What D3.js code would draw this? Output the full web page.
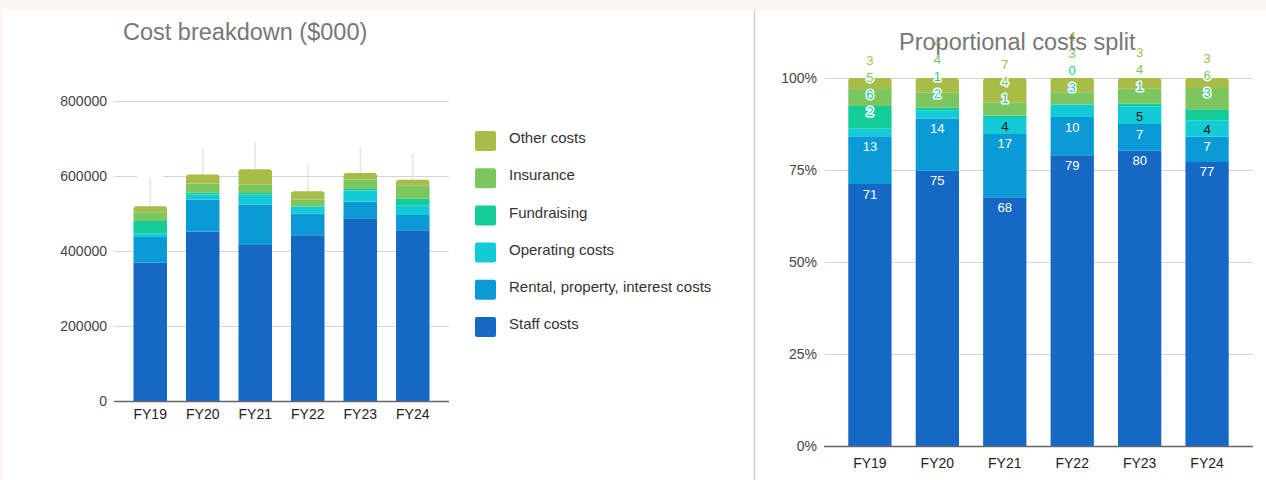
<!DOCTYPE html>
<html>
<head>
<meta charset="utf-8">
<script src="https://cdn.jsdelivr.net/npm/d3@7/dist/d3.min.js"></script>
<style>
  html, body { margin: 0; padding: 0; background: #fdf8ef; }
  svg { display: block; }
  text { font-family: "Liberation Sans", Arial, Helvetica, sans-serif; }
</style>
</head>
<body>
<svg id="chart" width="1266" height="480"></svg>
<script>
// ---- data ($000) ----
const categories = ["FY19", "FY20", "FY21", "FY22", "FY23", "FY24"];
const seriesNames = ["Staff costs", "Rental, property, interest costs", "Operating costs", "Fundraising", "Insurance", "Other costs"];
const staffCosts     = [369600, 451800, 417800, 441800, 487600, 455500];
const rentalCosts    = [67500, 85800, 106300, 58100, 44400, 40700];
const operatingCosts = [10400, 13300, 26600, 18400, 29200, 26000];
const fundraising    = [32200, 4200, 4300, 1100, 4300, 17700];
const insurance      = [23900, 24800, 22200, 17900, 24900, 34200];
const otherCosts     = [15600, 24100, 40800, 21800, 17600, 15900];
const upperMarks     = [600000, 679000, 695000, 637000, 682000, 664000];
const leftTicks  = [0, 200000, 400000, 600000, 800000];
const rightTicks = [0, 25, 50, 75, 100];
const seriesColors = ["#1569c5", "#0a9bd7", "#12cbd6", "#14cd96", "#7cc660", "#a7bd47"];

const seriesValues = [staffCosts, rentalCosts, operatingCosts, fundraising, insurance, otherCosts];
const rows = categories.map((c, i) => {
  const r = { cat: c };
  seriesNames.forEach((s, k) => r[s] = seriesValues[k][i]);
  r.total = d3.sum(seriesValues, v => v[i]);
  return r;
});
const stackAbs = d3.stack().keys(seriesNames)(rows);
const stackPct = d3.stack().keys(seriesNames).offset(d3.stackOffsetExpand)(rows);

const svg = d3.select("#chart");
// panel background
svg.append("rect").attr("x", 3).attr("y", 10).attr("width", 1263).attr("height", 470).attr("fill", "#ffffff");
svg.append("line").attr("x1", 754.5).attr("x2", 754.5).attr("y1", 10).attr("y2", 480)
  .attr("stroke", "#cfcfcf").attr("stroke-width", 1.5);

function topRoundedPath(x, y0, w, y1, r) {
  const h = y1 - y0;
  r = Math.min(r, h, w / 2);
  return `M${x},${y1}V${y0 + r}Q${x},${y0} ${x + r},${y0}H${x + w - r}Q${x + w},${y0} ${x + w},${y0 + r}V${y1}Z`;
}

// ================= LEFT CHART =================
const xL = d3.scaleBand().domain(categories).range([114, 449]).paddingInner(0.362).paddingOuter(0.371);
const yL = d3.scaleLinear().domain([0, 800000]).range([401, 101]);

const gL = svg.append("g");
gL.selectAll("line.grid").data(leftTicks.filter(t => t > 0)).join("line")
  .attr("x1", 114).attr("x2", 449).attr("y1", d => yL(d) + 0.5).attr("y2", d => yL(d) + 0.5)
  .attr("stroke", "#d6d6d6").attr("stroke-width", 1.2);
gL.selectAll("text.tick").data(leftTicks).join("text")
  .attr("x", 107).attr("y", d => yL(d)).attr("dy", "0.35em")
  .attr("text-anchor", "end").attr("font-size", 14).attr("fill", "#444")
  .text(d => d3.format("d")(d));

// whiskers
gL.selectAll("line.wh").data(rows).join("line")
  .attr("x1", d => xL(d.cat) + xL.bandwidth() / 2).attr("x2", d => xL(d.cat) + xL.bandwidth() / 2)
  .attr("y1", (d, i) => yL(upperMarks[i])).attr("y2", d => yL(d.total))
  .attr("stroke", "#e6e6e6").attr("stroke-width", 1.5);
gL.selectAll("line.cap").data(rows).join("line")
  .attr("x1", d => xL(d.cat) + xL.bandwidth() / 2 - 13).attr("x2", d => xL(d.cat) + xL.bandwidth() / 2 + 13)
  .attr("y1", (d, i) => yL(upperMarks[i]) + 0.5).attr("y2", (d, i) => yL(upperMarks[i]) + 0.5)
  .attr("stroke", "#ffffff").attr("stroke-width", 2.5);

stackAbs.forEach((layer, k) => {
  gL.append("g").selectAll("path").data(layer).join("path")
    .attr("fill", seriesColors[k])
    .attr("d", d => {
      const x = xL(d.data.cat), w = xL.bandwidth();
      const y0 = yL(d[1]), y1 = yL(d[0]);
      return k === seriesNames.length - 1 ? topRoundedPath(x, y0, w, y1, 3) : `M${x},${y1}V${y0}H${x + w}V${y1}Z`;
    });
});
gL.append("line").attr("x1", 114).attr("x2", 449).attr("y1", yL(0) + 0.5).attr("y2", yL(0) + 0.5)
  .attr("stroke", "#666").attr("stroke-width", 1.3);
gL.selectAll("text.cat").data(categories).join("text")
  .attr("x", d => xL(d) + xL.bandwidth() / 2).attr("y", 419)
  .attr("text-anchor", "middle").attr("font-size", 14).attr("fill", "#222").text(d => d);
gL.append("text").attr("x", 123).attr("y", 40).attr("font-size", 23.5).attr("fill", "#777")
  .text("Cost breakdown ($000)");

// legend
const legendOrder = seriesNames.map((s, k) => k).reverse();
const lg = svg.append("g");
legendOrder.forEach((k, j) => {
  const y = 131 + j * 37.2;
  lg.append("rect").attr("x", 475).attr("y", y).attr("width", 21).attr("height", 20).attr("rx", 2)
    .attr("fill", seriesColors[k]);
  lg.append("text").attr("x", 509).attr("y", y + 7).attr("dy", "0.35em")
    .attr("font-size", 15).attr("fill", "#333").text(seriesNames[k]);
});

// ================= RIGHT CHART =================
const xR = d3.scaleBand().domain(categories).range([824, 1253]).paddingInner(0.358).paddingOuter(0.36);
const yR = d3.scaleLinear().domain([0, 100]).range([446, 78]);
const gR = svg.append("g");
gR.selectAll("line.grid").data(rightTicks.filter(t => t > 0)).join("line")
  .attr("x1", 825).attr("x2", 1253).attr("y1", d => yR(d) + 0.5).attr("y2", d => yR(d) + 0.5)
  .attr("stroke", "#d6d6d6").attr("stroke-width", 1.2);
gR.selectAll("text.tick").data(rightTicks).join("text")
  .attr("x", 817).attr("y", d => yR(d)).attr("dy", "0.35em")
  .attr("text-anchor", "end").attr("font-size", 14).attr("fill", "#444")
  .text(d => d + "%");

stackPct.forEach((layer, k) => {
  gR.append("g").selectAll("path").data(layer).join("path")
    .attr("fill", seriesColors[k])
    .attr("d", d => {
      const x = xR(d.data.cat), w = xR.bandwidth();
      const y0 = yR(d[1] * 100), y1 = yR(d[0] * 100);
      return k === seriesNames.length - 1 ? topRoundedPath(x, y0, w, y1, 3) : `M${x},${y1}V${y0}H${x + w}V${y1}Z`;
    });
});
gR.append("line").attr("x1", 824).attr("x2", 1253).attr("y1", yR(0) + 0.5).attr("y2", yR(0) + 0.5)
  .attr("stroke", "#666").attr("stroke-width", 1.3);
gR.selectAll("text.cat").data(categories).join("text")
  .attr("x", d => xR(d) + xR.bandwidth() / 2).attr("y", 468)
  .attr("text-anchor", "middle").attr("font-size", 14).attr("fill", "#222").text(d => d);

// data labels with collision stacking
const labels = [];
categories.forEach((c, i) => {
  let lastY = Infinity;
  stackPct.forEach((layer, k) => {
    const d = layer[i];
    const pct = (d[1] - d[0]) * 100;
    const top = yR(d[1] * 100), bot = yR(d[0] * 100);
    const h = bot - top;
    const fits = h >= 15;
    const desired = fits ? top + 10 : top - 17;
    const yy = Math.min(desired, lastY - 17);
    const inside = fits && (yy - 5 >= top);
    lastY = yy;
    labels.push({ x: xR(c) + xR.bandwidth() / 2, y: yy, text: Math.round(pct), k, inside });
  });
});
const lab = gR.append("g");
lab.selectAll("text").data(labels).join("text")
  .attr("x", d => d.x).attr("y", d => d.y).attr("dy", "0.35em")
  .attr("text-anchor", "middle").attr("font-size", 13)
  .attr("fill", d => d.inside ? (d.k < 2 ? "#ffffff" : "#111111") : seriesColors[d.k])
  .attr("stroke", d => d.inside ? "none" : "#ffffff")
  .attr("stroke-width", 3).attr("paint-order", "stroke").attr("stroke-linejoin", "round")
  .text(d => d.text);

svg.append("text").attr("x", 899).attr("y", 50).attr("font-size", 23.5).attr("fill", "#777")
  .text("Proportional costs split");
</script>
</body>
</html>
